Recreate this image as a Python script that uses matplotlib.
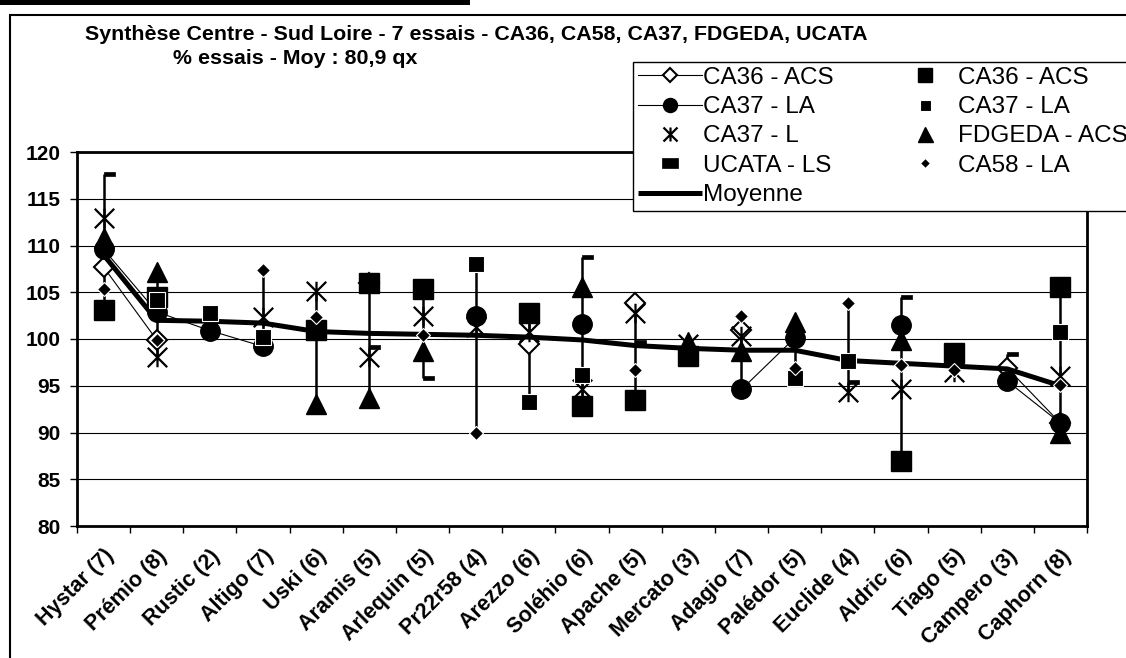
import numpy as np
import matplotlib
matplotlib.use("Agg")
import matplotlib.pyplot as plt
from matplotlib.path import Path
from matplotlib.lines import Line2D
from matplotlib.patches import Rectangle
from matplotlib.transforms import ScaledTranslation

plt.rcParams['font.family'] = ['Liberation Sans', 'DejaVu Sans']

nan = np.nan
varieties = ["Hystar (7)", "Prémio (8)", "Rustic (2)", "Altigo (7)", "Uski (6)", "Aramis (5)",
             "Arlequin (5)", "Pr22r58 (4)", "Arezzo (6)", "Soléhio (6)", "Apache (5)", "Mercato (3)",
             "Adagio (7)", "Palédor (5)", "Euclide (4)", "Aldric (6)", "Tiago (5)", "Campero (3)",
             "Caphorn (8)"]

ca36_acs_line = [107.7, 99.9, nan, nan, nan, 106.0, nan, nan, 99.5, nan, 103.8, nan, 101.0, nan, nan, nan, nan, 96.9, 91.0]
ca37_la_line = [109.6, 102.9, 100.9, 99.2, nan, nan, nan, 102.5, nan, 101.6, nan, nan, 94.6, 100.1, nan, 101.5, nan, 95.5, 91.0]
ca37_l = [112.9, 98.1, nan, 102.4, 105.1, 98.1, 102.5, 101.3, 100.8, 94.6, 102.8, 99.5, 100.3, nan, 94.3, 94.6, 96.5, nan, 96.0]
ucata_ls = [117.7, nan, nan, nan, nan, 99.1, 95.8, nan, nan, 108.8, 99.7, nan, nan, nan, 95.4, 104.5, nan, 98.4, nan]
ca36_acs_sq = [103.1, 104.5, nan, nan, 101.0, 106.0, 105.3, nan, 102.8, 92.8, 93.5, 98.2, nan, nan, nan, 86.9, 98.5, nan, 105.6]
ca37_la_sq = [nan, 104.2, 102.8, 100.2, nan, nan, nan, 108.0, 93.3, 96.2, nan, nan, nan, 95.8, 97.7, nan, nan, nan, 100.7]
fdgeda_acs = [110.8, 107.2, nan, nan, 93.0, 93.7, 98.7, nan, nan, 105.6, nan, 99.7, 98.7, 101.8, nan, 99.9, nan, nan, 89.9]
ca58_la = [105.4, 99.9, nan, 107.4, 102.4, nan, 100.4, 89.9, nan, nan, 96.7, nan, 102.5, 96.9, 103.8, 97.2, 96.7, nan, 95.1]
moyenne = [109.0, 102.0, 101.9, 101.7, 100.8, 100.6, 100.5, 100.4, 100.2, 99.9, 99.3, 99.0, 98.8, 98.8, 97.7, 97.4, 97.1, 96.8, 95.0]

title1 = "Synthèse Centre - Sud Loire - 7 essais - CA36, CA58, CA37, FDGEDA, UCATA"
title2 = "% essais - Moy : 80,9 qx"
yticks = [80, 85, 90, 95, 100, 105, 110, 115, 120]

W, H = 1126, 658
fig = plt.figure(figsize=(W / 100, H / 100), dpi=100)
fig.patch.set_facecolor('white')

left, right, top, bottom = 77, 1087, 152, 526
ax = fig.add_axes([left / W, 1 - bottom / H, (right - left) / W, (bottom - top) / H])
x = np.arange(len(varieties))

# custom markers
star = Path([(-1, -1), (1, 1), (-1, 1), (1, -1), (0, -1), (0, 1)],
            [Path.MOVETO, Path.LINETO, Path.MOVETO, Path.LINETO, Path.MOVETO, Path.LINETO])
dash = Path([(0, -0.22), (1, -0.22), (1, 0.22), (0, 0.22), (0, -0.22)],
            [Path.MOVETO, Path.LINETO, Path.LINETO, Path.LINETO, Path.CLOSEPOLY])
dash_c = Path([(-0.5, -0.3), (0.5, -0.3), (0.5, 0.3), (-0.5, 0.3), (-0.5, -0.3)],
              [Path.MOVETO, Path.LINETO, Path.LINETO, Path.LINETO, Path.CLOSEPOLY])

all_series = np.array([ca36_acs_line, ca37_la_line, ca37_l, ucata_ls, ca36_acs_sq,
                       ca37_la_sq, fdgeda_acs, ca58_la, moyenne], dtype=float)
lo = np.nanmin(all_series, axis=0)
hi = np.nanmax(all_series, axis=0)
ax.vlines(x, lo, hi, color='black', lw=1.8, zorder=3)

h1, = ax.plot(x, ca36_acs_line, color='black', lw=0.8, marker='D', ms=10, mfc='white',
              mec='black', mew=1.5, zorder=4, label='CA36 - ACS')
h2, = ax.plot(x, ca37_la_line, color='black', lw=0.8, marker='o', ms=14, mfc='black',
              mec='black', zorder=4, label='CA37 - LA')
h3, = ax.plot(x, ca37_l, ls='none', marker=star, ms=14, mfc='none', mec='black', mew=1.6,
              zorder=5, label='CA37 - L')
ax.plot(x, ucata_ls, ls='none', marker=dash, ms=16, mfc='black', mec='black', mew=0.5, zorder=5)
h4 = Line2D([], [], ls='none', marker=dash_c, ms=16, mfc='black', mec='black', mew=0.5,
            label='UCATA - LS')
h6, = ax.plot(x, ca36_acs_sq, ls='none', marker='s', ms=14, mfc='black', mec='black', zorder=5,
              label='CA36 - ACS')
h7, = ax.plot(x, ca37_la_sq, ls='none', marker='s', ms=11, mfc='black', mec='white', mew=0.8,
              zorder=5, label='CA37 - LA')
h8, = ax.plot(x, fdgeda_acs, ls='none', marker='^', ms=15, mfc='black', mec='black', zorder=5,
              label='FDGEDA - ACS')
h9, = ax.plot(x, ca58_la, ls='none', marker='D', ms=7.5, mfc='black', mec='white', mew=0.8,
              zorder=6, label='CA58 - LA')
h5, = ax.plot(x, moyenne, color='black', lw=3.6, zorder=4.5, label='Moyenne',
              solid_capstyle='butt')

ax.set_xlim(-0.5, len(varieties) - 0.5)
ax.set_ylim(80, 120)
ax.set_yticks(yticks)
ax.set_yticklabels([str(v) for v in yticks], fontweight='bold', fontsize=15)
ax.yaxis.grid(True, color='black', lw=0.8)
ax.set_axisbelow(True)
ax.set_xticks(x)
ax.set_xticklabels(varieties, rotation=45, ha='right', va='top', rotation_mode='anchor',
                   fontweight='bold', fontsize=15.5)
shift = ScaledTranslation(-7 / 100, 0, fig.dpi_scale_trans)
for lab in ax.get_xticklabels():
    lab.set_transform(lab.get_transform() + shift)
ax.set_xticks(np.arange(-0.5, len(varieties), 1), minor=True)
ax.tick_params(axis='x', which='major', length=0, pad=14)
ax.tick_params(axis='x', which='minor', length=5, width=1, direction='out')
ax.tick_params(axis='y', length=5, width=1, direction='out', pad=7)
for s in ax.spines.values():
    s.set_linewidth(2)
    s.set_color('black')

fig.text(476 / W, 1 - 34 / H, title1, ha='center', va='center', fontweight='bold', fontsize=15.4)
fig.text(295 / W, 1 - 59 / H, title2, ha='center', va='center', fontweight='bold', fontsize=15.4)

leg = fig.legend(handles=[h1, h2, h3, h4, h5, h6, h7, h8, h9], ncol=2,
                 loc='upper left', bbox_to_anchor=(633 / W, 1 - 62 / H),
                 fontsize=17.5, frameon=True, fancybox=False, edgecolor='black',
                 framealpha=1, numpoints=1, markerscale=0.72, handlelength=2.62,
                 handletextpad=0.06, columnspacing=2.44, labelspacing=0.3,
                 borderpad=0.2, borderaxespad=0)
leg.get_frame().set_linewidth(1.0)
leg.set_zorder(10)

# outer chart frame (bottom and right edges lie outside the picture) and top bar
fig.patches.append(Rectangle((10 / W, -20 / H), (1140 - 10) / W, (H + 20 - 15) / H,
                             transform=fig.transFigure, fill=False, ec='black', lw=1.5))
fig.patches.append(Rectangle((0, 1 - 5 / H), 470 / W, 5 / H, transform=fig.transFigure,
                             fc='black', ec='none'))

fig.savefig('out.png', dpi=100)
